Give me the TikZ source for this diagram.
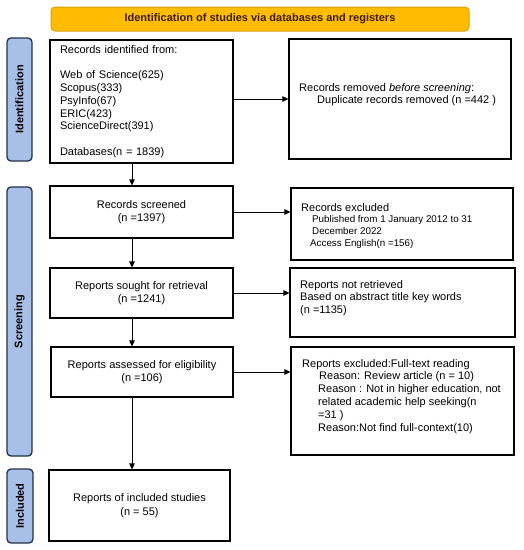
\documentclass[tikz,border=0pt]{standalone}
\usepackage{fontspec}
\setmainfont{Liberation Sans}
\usetikzlibrary{arrows.meta,calc}
\definecolor{titlefill}{HTML}{FFBC00}
\definecolor{titledraw}{HTML}{D9A010}
\definecolor{titletext}{HTML}{3D1C00}
\definecolor{sidefill}{HTML}{A8C0E8}
\definecolor{sidedraw}{HTML}{22304A}
\begin{document}
\begin{tikzpicture}[x=1pt,y=-1pt,
  box/.style={draw=black, line width=1.1pt, fill=white, inner sep=0pt,
    font=\fontsize{11}{12.8}\selectfont, align=center},
  side/.style={draw=sidedraw, fill=sidefill, line width=1.3pt, rounded corners=4pt,
    inner sep=0pt, font=\bfseries\fontsize{11}{13}\selectfont, rotate=90},
  titlebox/.style={draw=titledraw, fill=titlefill, line width=1pt, rounded corners=4pt,
    inner sep=0pt, text=titletext, font=\bfseries\fontsize{11}{13}\selectfont},
  txt/.style={inner sep=0pt, anchor=north west, align=left,
    font=\fontsize{11}{12.8}\selectfont},
  arr/.style={-{Triangle[length=6pt,width=5.5pt]}, line width=0.8pt}]
\useasboundingbox (0,0) rectangle (524,550);
\fill[white] (0,0) rectangle (524,550);

\node[titlebox, minimum width=418, minimum height=24] (title) at (260,19)
  {Identification of studies via databases and registers};

\node[side, minimum width=123, minimum height=25] (sid) at (19.5,99.5) {Identification};
\node[side, minimum width=269, minimum height=25] (sscr) at (19.5,321.5) {Screening};
\node[side, minimum width=74, minimum height=26] (sinc) at (20,506) {Included};

% left column
\node[box, minimum width=183, minimum height=123, text width=163, align=left] (b1) at (141.5,101.5)
  {Records identified from:\\[12.8pt]Web of Science(625)\\Scopus(333)\\PsyInfo(67)\\ERIC(423)\\ScienceDirect(391)\\[12.8pt]Databases(n = 1839)};
\node[box, minimum width=183, minimum height=52] (b2) at (141.5,212) {Records screened\\(n =1397)};
\node[box, minimum width=183, minimum height=50] (b3) at (141.5,293) {Reports sought for retrieval\\(n =1241)};
\node[box, minimum width=182, minimum height=50] (b4) at (142,372) {Reports assessed for eligibility\\(n =106)};
\node[box, minimum width=181, minimum height=71, font=\fontsize{11}{14}\selectfont] (b5) at (139.5,505.5) {Reports of included studies\\(n = 55)};

% right column
\node[box, minimum width=222, minimum height=120] (r1) at (400,99) {};
\node[box, minimum width=222, minimum height=72] (r2) at (402,224) {};
\node[box, minimum width=225, minimum height=69] (r3) at (402.5,302.5) {};
\node[box, minimum width=223, minimum height=108] (r4) at (402.5,401) {};

\node[txt] (t1) at (299,83) {Records removed \textit{before screening}:\\\hspace*{18pt}Duplicate records removed (n =442 )};
\node[txt, font=\fontsize{9.8}{11.7}\selectfont] (t2) at (301,203)
  {{\fontsize{11}{12}\selectfont Records excluded}\\\hspace*{11pt}Published from 1 January 2012 to 31\\\hspace*{11pt}December 2022\\\hspace*{9pt}Access English(n =156)};
\node[txt] (t3) at (300,280) {Reports not retrieved\\Based on abstract title key words\\(n =1135)};
\node[txt] (t4) at (302,359)
  {Reports excluded:Full-text reading\\\hspace*{17pt}Reason: Review article (n = 10)\\\hspace*{16pt}Reason : Not in higher education, not\\\hspace*{16pt}related academic help seeking(n\\\hspace*{16pt}=31 )\\\hspace*{16pt}Reason:Not find full-context(10)};

% connectors
\coordinate (colx) at (132,0);
\draw[arr] (b1.south -| colx) -- (b2.north -| colx);
\draw[arr] (b2.south -| colx) -- (b3.north -| colx);
\draw[arr] (b3.south -| colx) -- (b4.north -| colx);
\draw[arr] (b4.south -| colx) -- (b5.north -| colx);
\draw[arr] (b1.east |- r1.west) -- (r1.west);
\draw[arr] (b2.east) -- (b2.east -| r2.west);
\draw[arr] (b3.east) -- (b3.east -| r3.west);
\draw[arr] (b4.east) -- (b4.east -| r4.west);
\end{tikzpicture}
\end{document}
